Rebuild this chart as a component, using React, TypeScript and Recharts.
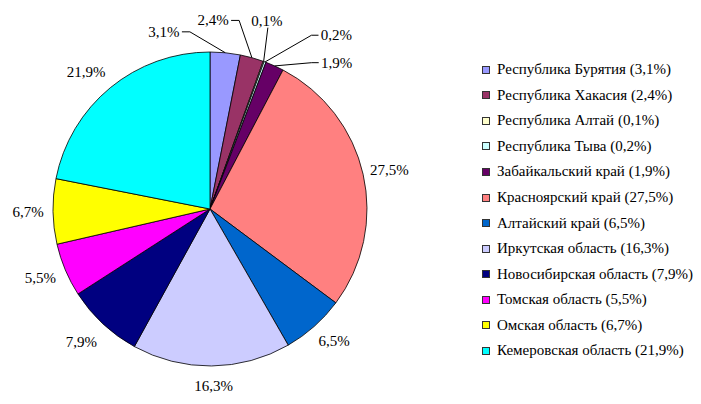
import React from "react";
import { PieChart, Pie, Cell, Legend } from "recharts";

const regions = [
  "Республика Бурятия",
  "Республика Хакасия",
  "Республика Алтай",
  "Республика Тыва",
  "Забайкальский край",
  "Красноярский край",
  "Алтайский край",
  "Иркутская область",
  "Новосибирская область",
  "Томская область",
  "Омская область",
  "Кемеровская область",
];

const shares = [3.1, 2.4, 0.1, 0.2, 1.9, 27.5, 6.5, 16.3, 7.9, 5.5, 6.7, 21.9];

const colors = [
  "#9999FF",
  "#993366",
  "#FFFFCC",
  "#CCFFFF",
  "#660066",
  "#FF8080",
  "#0066CC",
  "#CCCCFF",
  "#000080",
  "#FF00FF",
  "#FFFF00",
  "#00FFFF",
];

// manual label shifts (like moved Excel data labels)
const labelNudges: [number, number][] = [
  [-64, -1],
  [-46, -18],
  [-6, -22],
  [62, -8],
  [51, 15],
  [0, 0],
  [2, 0],
  [2, 0],
  [-3, 4],
  [0, 0],
  [2, 0],
  [-7, 0],
];
// labels that were moved away and get a leader line
const labelLeaders = [true, true, true, true, true, false, false, false, false, false, false, false];

const data = regions.map((name, i) => ({ name, value: shares[i] }));

const fmt = (v: number) => v.toFixed(1).replace(".", ",") + "%";

const FONT = "'Liberation Serif', 'DejaVu Serif', serif";
const RAD = Math.PI / 180;

function renderLabel(props: any) {
  const { cx, cy, midAngle, outerRadius, index, value } = props;
  const c = Math.cos(-midAngle * RAD);
  const s = Math.sin(-midAngle * RAD);
  const ex = cx + outerRadius * c;
  const ey = cy + outerRadius * s;
  const gap = 8;
  const hw = 19;
  const hh = 12;
  const nudge = labelNudges[index];
  const tx = cx + (outerRadius + gap) * c + hw * c + nudge[0];
  const ty = cy + (outerRadius + gap) * s + hh * s + nudge[1];
  let line: React.ReactNode = null;
  if (labelLeaders[index]) {
    const halfW = 17;
    let pts: string;
    if (tx - ex > 20) {
      const sx = tx - halfW - 1;
      pts = `${sx},${ty} ${sx - 7},${ty} ${ex},${ey}`;
    } else if (ex - tx > 20) {
      const sx = tx + halfW + 1;
      pts = `${sx},${ty} ${sx + 8},${ty} ${ex},${ey}`;
    } else {
      pts = `${tx + 1},${ty + 7} ${ex},${ey}`;
    }
    line = <polyline points={pts} fill="none" stroke="#000" strokeWidth={1} />;
  }
  return (
    <g key={`lbl-${index}`}>
      {line}
      <text
        x={tx}
        y={ty}
        textAnchor="middle"
        dominantBaseline="central"
        style={{ fontFamily: FONT, fontSize: 15 }}
        fill="#000"
      >
        {fmt(value)}
      </text>
    </g>
  );
}

function LegendContent() {
  return (
    <div style={{ fontFamily: FONT, fontSize: 15, color: "#000" }}>
      {regions.map((name, i) => (
        <div
          key={name}
          style={{
            height: 25.55,
            display: "flex",
            alignItems: "center",
            whiteSpace: "nowrap",
          }}
        >
          <span
            style={{
              display: "inline-block",
              width: 6,
              height: 6,
              border: "1px solid #333",
              background: colors[i],
              marginRight: 7,
            }}
          />
          <span>{`${name} (${fmt(shares[i])})`}</span>
        </div>
      ))}
    </div>
  );
}

export default function App() {
  return (
    <div style={{ position: "absolute", left: 0, top: 0, width: 701, height: 404, background: "#fff" }}>
      <PieChart width={701} height={404} margin={{ top: 0, right: 0, bottom: 0, left: 0 }}>
        <Pie
          data={data}
          dataKey="value"
          nameKey="name"
          cx={210}
          cy={209}
          outerRadius={157}
          startAngle={90}
          endAngle={-270}
          stroke="#000"
          strokeWidth={0.8}
          label={renderLabel}
          labelLine={false}
          isAnimationActive={false}
        >
          {data.map((d, i) => (
            <Cell key={d.name} fill={colors[i]} />
          ))}
        </Pie>
        <Legend
          layout="vertical"
          align="right"
          verticalAlign="top"
          content={() => <LegendContent />}
          wrapperStyle={{ position: "absolute", left: 482, top: 57, width: 219 }}
        />
      </PieChart>
    </div>
  );
}
